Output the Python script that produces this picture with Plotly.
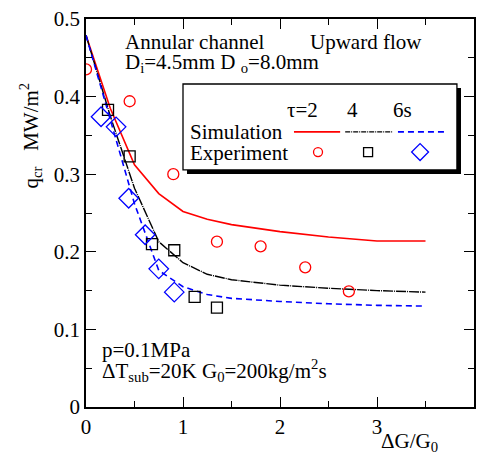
import plotly.graph_objects as go

# Simulation curves (τ = 2, 4, 6 s)
sim_x = [0, 0.25, 0.5, 0.75, 1.0, 1.25, 1.5, 2.0, 2.5, 3.0, 3.5]
sim_t2 = [0.479, 0.385, 0.312, 0.275, 0.252, 0.242, 0.235, 0.226, 0.219, 0.214, 0.214]
sim_t4 = [0.479, 0.375, 0.282, 0.213, 0.186, 0.171, 0.164, 0.157, 0.153, 0.150, 0.148]
sim_t6 = [0.479, 0.370, 0.262, 0.176, 0.155, 0.145, 0.140, 0.136, 0.133, 0.131, 0.130]

# Experiments
exp2_x = [0.0, 0.45, 0.9, 1.35, 1.8, 2.26, 2.71]
exp2_y = [0.435, 0.394, 0.300, 0.213, 0.207, 0.180, 0.149]
exp4_x = [0.227, 0.45, 0.68, 0.91, 1.12, 1.35]
exp4_y = [0.383, 0.323, 0.210, 0.202, 0.142, 0.128]
exp6_x = [0.155, 0.31, 0.44, 0.61, 0.75, 0.91]
exp6_y = [0.374, 0.361, 0.269, 0.222, 0.178, 0.148]

# Tick labels
x_ticks = [0, 1, 2, 3, 4]
x_ticklabels = ["0", "1", "2", "3", "4"]
y_ticks = [0, 0.1, 0.2, 0.3, 0.4, 0.5]
y_ticklabels = ["0", "0.1", "0.2", "0.3", "0.4", "0.5"]

RED, BLK, BLU = "#ff0000", "#000000", "#0000ff"
FONT = "Liberation Serif"
FS = 21

fig = go.Figure()
fig.add_trace(go.Scatter(x=sim_x, y=sim_t2, mode="lines", line=dict(color=RED, width=1.6)))
fig.add_trace(go.Scatter(x=sim_x, y=sim_t4, mode="lines", line=dict(color=BLK, width=1.4, dash="10px,1px,1px,1px")))
fig.add_trace(go.Scatter(x=sim_x, y=sim_t6, mode="lines", line=dict(color=BLU, width=1.6, dash="6px,4px")))
fig.add_trace(go.Scatter(x=exp2_x, y=exp2_y, mode="markers",
                         marker=dict(symbol="circle-open", size=11, color=RED, line=dict(width=1.3))))
fig.add_trace(go.Scatter(x=exp4_x, y=exp4_y, mode="markers",
                         marker=dict(symbol="square-open", size=11, color=BLK, line=dict(width=1.3))))
fig.add_trace(go.Scatter(x=exp6_x, y=exp6_y, mode="markers",
                         marker=dict(symbol="diamond-open", size=15, color=BLU, line=dict(width=1.3))))

# Legend samples on an overlay axis (0..1 paper-like)
leg_line_y = 0.709
leg_mark_y = 0.657
fig.add_trace(go.Scatter(x=[0.536, 0.655], y=[leg_line_y] * 2, mode="lines",
                         line=dict(color=RED, width=1.6), xaxis="x2", yaxis="y2"))
fig.add_trace(go.Scatter(x=[0.668, 0.789], y=[leg_line_y] * 2, mode="lines",
                         line=dict(color=BLK, width=1.4, dash="5px,1px,1px,1px"), xaxis="x2", yaxis="y2"))
fig.add_trace(go.Scatter(x=[0.804, 0.925], y=[leg_line_y] * 2, mode="lines",
                         line=dict(color=BLU, width=1.6, dash="6px,4px"), xaxis="x2", yaxis="y2"))
fig.add_trace(go.Scatter(x=[0.598], y=[leg_mark_y], mode="markers", xaxis="x2", yaxis="y2",
                         marker=dict(symbol="circle-open", size=9, color=RED, line=dict(width=1.3))))
fig.add_trace(go.Scatter(x=[0.727], y=[leg_mark_y], mode="markers", xaxis="x2", yaxis="y2",
                         marker=dict(symbol="square-open", size=9, color=BLK, line=dict(width=1.3))))
fig.add_trace(go.Scatter(x=[0.861], y=[leg_mark_y], mode="markers", xaxis="x2", yaxis="y2",
                         marker=dict(symbol="diamond-open", size=13, color=BLU, line=dict(width=1.3))))

axis_common = dict(
    showline=True, linecolor="black", linewidth=1.5, mirror="allticks",
    ticks="inside", ticklen=10, tickwidth=1.2, tickcolor="black",
    showgrid=False, zeroline=False, automargin=False,
    tickfont=dict(family=FONT, size=FS, color="black"),
)
fig.update_layout(
    width=479, height=456,
    margin=dict(l=86, r=5, t=19, b=49, autoexpand=False),
    paper_bgcolor="white", plot_bgcolor="white",
    showlegend=False,
    font=dict(family=FONT, size=FS, color="black"),
    xaxis=dict(range=[0, 4], tickmode="array", tickvals=x_ticks, ticktext=x_ticklabels,
               minor=dict(ticks="inside", ticklen=6, dtick=0.5, tick0=0, tickcolor="black", tickwidth=1.2),
               **axis_common),
    yaxis=dict(range=[0, 0.5], tickmode="array", tickvals=y_ticks, ticktext=y_ticklabels,
               minor=dict(ticks="inside", ticklen=6, dtick=0.05, tick0=0, tickcolor="black", tickwidth=1.2),
               **axis_common),
    xaxis2=dict(range=[0, 1], overlaying="x", visible=False),
    yaxis2=dict(range=[0, 1], overlaying="y", visible=False),
)

# Legend box with shadow
fig.add_shape(type="rect", xref="paper", yref="paper", x0=0.2603, x1=0.9665, y0=0.6005, y1=0.822,
              fillcolor="black", line=dict(width=0), layer="below")
fig.add_shape(type="rect", xref="paper", yref="paper", x0=0.25, x1=0.956, y0=0.611, y1=0.8325,
              fillcolor="white", line=dict(color="black", width=1.3), layer="below")

def ann(text, x, y, xanchor="left", yanchor="middle", **kw):
    fig.add_annotation(text=text, x=x, y=y, xref="paper", yref="paper", showarrow=False,
                       xanchor=xanchor, yanchor=yanchor,
                       font=dict(family=FONT, size=FS, color="black"), **kw)

ann("τ=2", 0.559, 0.765, xanchor="center")
ann("4", 0.688, 0.765, xanchor="center")
ann("6s", 0.817, 0.765, xanchor="center")
ann("Simulation", 0.263, 0.709)
ann("Experiment", 0.263, 0.655)

ann("Annular channel", 0.0954, 0.941)
ann("Upward flow", 0.572, 0.941)
ann("D<sub>i</sub>=4.5mm D <sub>o</sub>=8.0mm", 0.0954, 0.887)
ann("p=0.1MPa", 0.036, 0.147)
ann("ΔT<sub>sub</sub>=20K G<sub>0</sub>=200kg/m<sup>2</sup>s", 0.036, 0.095)

ann("q<sub>cr</sub>\u00a0\u00a0\u00a0MW/m<sup>2</sup>", -0.144, 0.70, xanchor="center", textangle=-90)
ann("ΔG/G<sub>0</sub>", 0.835, -0.09, xanchor="center")

fig.write_html("out.html")
